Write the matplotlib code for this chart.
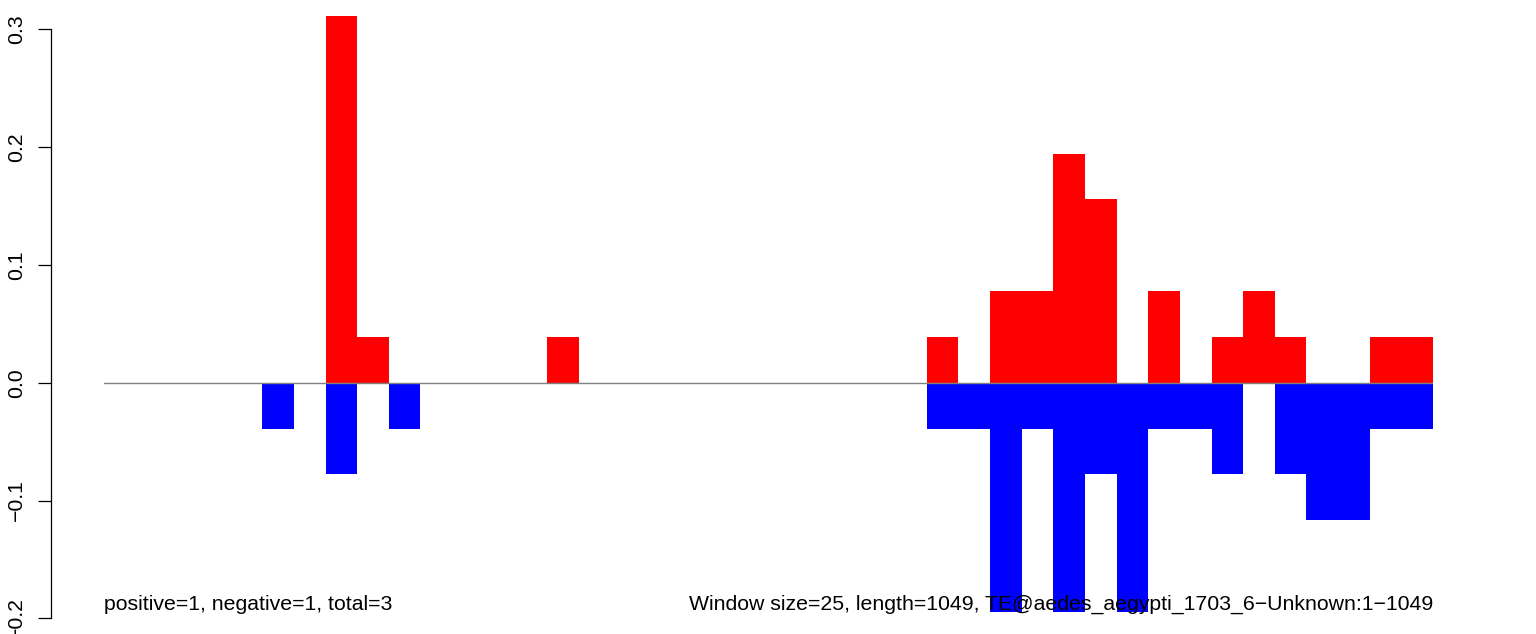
"""
Window-based positive/negative signal plot for TE@aedes_aegypti_1703_6.
"""
import matplotlib
matplotlib.use("Agg")
import matplotlib.pyplot as plt
import numpy as np

plt.rcParams['font.family'] = ['Liberation Sans', 'DejaVu Sans']

# 42 windows of 25 bp over a 1049 bp element
positive = [0, 0, 0, 0, 0, 0, 0, 0.3112, 0.0389, 0,
            0, 0, 0, 0, 0.0389, 0, 0, 0, 0, 0,
            0, 0, 0, 0, 0, 0, 0.0389, 0, 0.0778, 0.0778,
            0.1945, 0.1556, 0, 0.0778, 0, 0.0389, 0.0778, 0.0389, 0, 0,
            0.0389, 0.0389]
negative = [0, 0, 0, 0, 0, -0.0389, 0, -0.0778, 0, -0.0389,
            0, 0, 0, 0, 0, 0, 0, 0, 0, 0,
            0, 0, 0, 0, 0, 0, -0.0389, -0.0389, -0.1945, -0.0389,
            -0.1945, -0.0778, -0.1945, -0.0389, -0.0389, -0.0778, 0, -0.0778, -0.1167, -0.1167,
            -0.0389, -0.0389]
y_ticks = [-0.2, -0.1, 0.0, 0.1, 0.2, 0.3]
left_note = "positive=1, negative=1, total=3"
right_note = "Window size=25, length=1049, TE@aedes_aegypti_1703_6\u2212Unknown:1\u22121049"

W, H = 1536, 634
fig = plt.figure(figsize=(W / 100, H / 100), dpi=100)
ax = fig.add_axes([104 / W, 0, (1433 - 104) / W, 1])

x = np.arange(len(positive))
ax.bar(x, positive, width=1, align='edge', color='red', linewidth=0)
ax.bar(x, negative, width=1, align='edge', color='blue', linewidth=0)
ax.plot([0, len(positive)], [0, 0], color='gray', lw=1, zorder=3)

ax.set_xlim(0, len(positive))
ax.set_ylim(-0.2133, 0.3249)

for s in ['top', 'right', 'bottom']:
    ax.spines[s].set_visible(False)
ax.spines['left'].set_position(('outward', 38.5))
ax.spines['left'].set_bounds(-0.2, 0.3)
ax.spines['left'].set_linewidth(0.9)
ax.set_xticks([])
ax.set_yticks(y_ticks)
ax.set_yticklabels([f"{v:.1f}".replace('-', '\u2212') for v in y_ticks],
                   rotation=90, va='center', fontsize=15.3)
ax.tick_params(axis='y', length=9.5, width=0.9, pad=8)

fig.text(104 / W, 1 - 604 / H, left_note, ha='left', va='center', fontsize=15.3)
fig.text(1433 / W, 1 - 604 / H, right_note, ha='right', va='center', fontsize=15.3)

fig.savefig("out.png", dpi=100)
